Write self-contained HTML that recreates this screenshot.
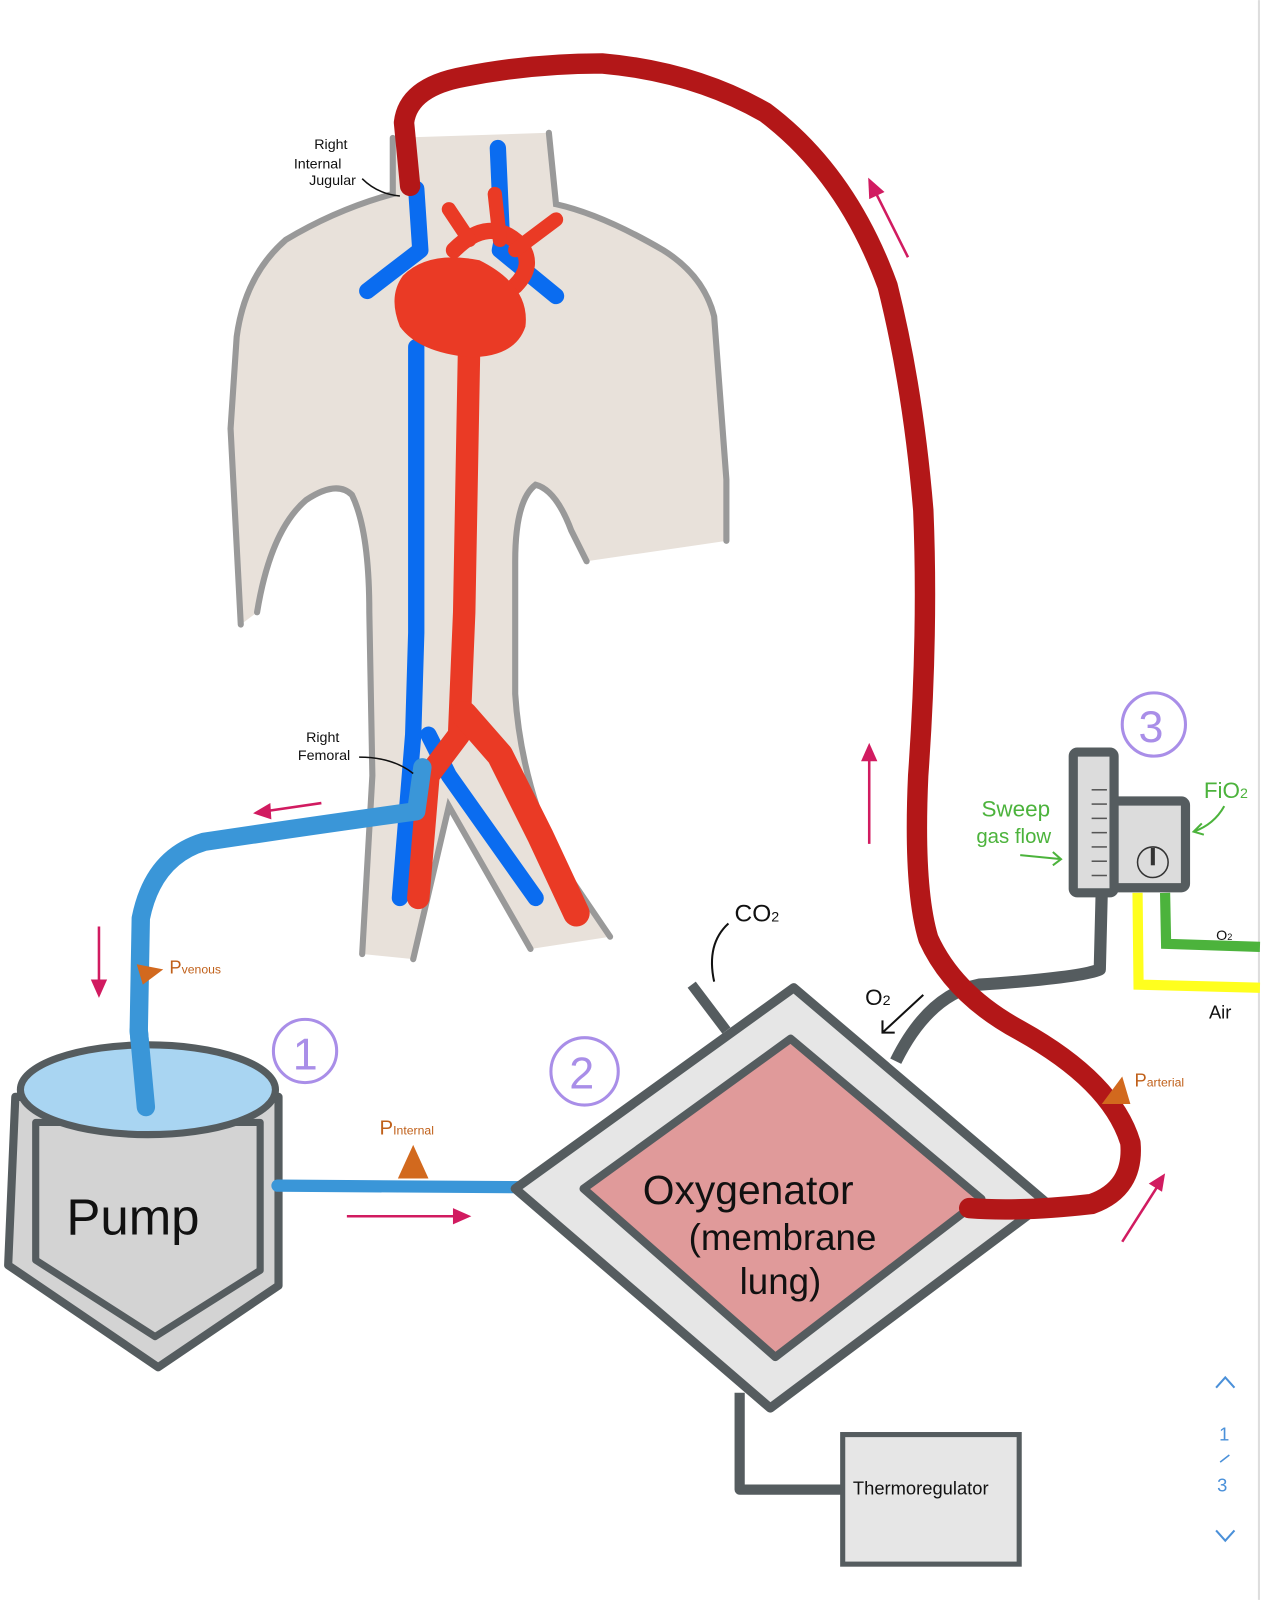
<!DOCTYPE html>
<html><head><meta charset="utf-8"><style>
html,body{margin:0;padding:0;background:#fff;width:1262px;height:1600px;overflow:hidden}
svg{display:block}
text{font-family:"Liberation Sans",sans-serif}
</style></head><body>
<svg width="1262" height="1600" viewBox="0 0 1237 1568" xmlns="http://www.w3.org/2000/svg">
<rect width="1237" height="1568" fill="#fff"/>
<line x1="1234" y1="0" x2="1234" y2="1568" stroke="#ddd" stroke-width="2"/>
<!-- body -->
<path d="M385,135 L385,190 Q330,205 280,235 Q240,270 232,330 L226,420 L236,612 L252,600 Q265,520 300,490 Q330,470 345,485 Q362,520 362,600 L365,760 L355,935 L405,940 L440,790 L520,930 L598,918 L545,840 Q510,760 505,680 L505,550 Q505,490 525,475 Q545,480 560,520 L575,550 L712,530 L712,470 L700,310 Q690,270 650,245 Q590,210 545,200 L538,130 Z" fill="#e8e1da"/>
<path d="M385,135 L385,190 Q330,205 280,235 Q240,270 232,330 L226,420 L236,612" fill="none" stroke="#999" stroke-width="6" stroke-linecap="round"/>
<path d="M252,600 Q265,520 300,490 Q330,470 345,485 Q362,520 362,600 L365,760 L355,935" fill="none" stroke="#999" stroke-width="6" stroke-linecap="round"/>
<path d="M405,940 L440,790 L520,930" fill="none" stroke="#999" stroke-width="6" stroke-linecap="round"/>
<path d="M598,918 L545,840 Q510,760 505,680 L505,550 Q505,490 525,475 Q545,480 560,520 L575,550" fill="none" stroke="#999" stroke-width="6" stroke-linecap="round"/>
<path d="M712,530 L712,470 L700,310 Q690,270 650,245 Q590,210 545,200 L538,130" fill="none" stroke="#999" stroke-width="6" stroke-linecap="round"/>
<!-- veins -->
<g stroke="#0a6cf0" stroke-width="16" fill="none" stroke-linecap="round" stroke-linejoin="round">
<path d="M408,185 L412,245 L360,285"/>
<path d="M488,145 L492,235 L490,245 L545,290"/>
<path d="M408,340 L408,620 L405,720 L392,880"/>
<path d="M420,720 L440,760 L525,880"/>
</g>
<!-- arteries -->
<g stroke="#ea3a25" fill="none" stroke-linecap="round" stroke-linejoin="round">
<path d="M460,330 L455,600 L450,720 L420,760 L410,880" stroke-width="22"/>
<path d="M455,700 L490,740 L530,820 L565,895" stroke-width="26"/>
<path d="M445,245 Q480,210 510,240 Q525,260 505,280" stroke-width="16"/>
<path d="M440,205 L460,235 M485,190 L490,235 M545,215 L505,245" stroke-width="14"/>
</g>
<path d="M395,270 Q420,245 470,255 Q520,280 515,320 Q505,350 460,350 Q410,345 392,320 Q380,290 395,270 Z" fill="#ea3a25"/>
<!-- venous return tube -->
<path d="M414,752 L408,795 Q300,810 200,825 Q150,840 138,900 L136,1010 L143,1090" fill="none" stroke="#3a96d8" stroke-width="18" stroke-linecap="round" stroke-linejoin="round"/>
<!-- pump -->
<polygon points="15,1075 273,1075 273,1260 155,1340 8,1240" fill="#d3d3d3" stroke="#555c5f" stroke-width="8" stroke-linejoin="round"/>
<polygon points="35,1100 255,1100 255,1245 152,1310 35,1235" fill="none" stroke="#555c5f" stroke-width="7" stroke-linejoin="round"/>
<ellipse cx="145" cy="1068" rx="125" ry="44" fill="#a9d5f2" stroke="#555c5f" stroke-width="7"/>
<path d="M136,1010 L143,1085" stroke="#3a96d8" stroke-width="18" stroke-linecap="round"/>
<text x="65" y="1210" font-size="50" fill="#111">Pump</text>
<!-- blue line to oxygenator -->
<path d="M272,1162 L580,1164" stroke="#3a96d8" stroke-width="12" stroke-linecap="round"/>
<!-- oxygenator -->
<polygon points="778,968 1025,1178 755,1380 505,1165" fill="#e6e6e6" stroke="#555c5f" stroke-width="9" stroke-linejoin="round"/>
<polygon points="775,1018 962,1175 760,1330 572,1165" fill="#e09a9a" stroke="#555c5f" stroke-width="8" stroke-linejoin="round"/>
<text x="630" y="1180" font-size="40" fill="#111">Oxygenator</text>
<text x="675" y="1225" font-size="36" fill="#111">(membrane</text>
<text x="725" y="1268" font-size="36" fill="#111">lung)</text>
<!-- CO2 stub -->
<path d="M678,965 L712,1010" stroke="#555c5f" stroke-width="10"/>
<path d="M700,962 Q692,925 714,905" fill="none" stroke="#111" stroke-width="2"/>
<text x="720" y="903" font-size="24" fill="#111">CO<tspan font-size="14">2</tspan></text>
<!-- thermoregulator -->
<path d="M725,1365 L725,1460 L828,1460" fill="none" stroke="#555c5f" stroke-width="10" stroke-linejoin="round"/>
<rect x="826" y="1406" width="173" height="127" fill="#e6e6e6" stroke="#555c5f" stroke-width="5"/>
<text x="836" y="1465" font-size="18" fill="#111">Thermoregulator</text>
<!-- gas line -->
<path d="M1080,870 L1078,950 Q1060,958 960,965 Q910,975 878,1040" fill="none" stroke="#555c5f" stroke-width="12" stroke-linejoin="round"/>
<path d="M1115,875 L1116,965 L1235,968" fill="none" stroke="#ffff1e" stroke-width="10"/>
<path d="M1142,875 L1143,925 L1235,928" fill="none" stroke="#4cb33c" stroke-width="10"/>
<text x="1192" y="921" font-size="14" fill="#111">O<tspan font-size="9">2</tspan></text>
<text x="1185" y="998" font-size="18" fill="#111">Air</text>
<!-- blender -->
<rect x="1052" y="737" width="40" height="138" rx="4" fill="#dcdcdc" stroke="#555c5f" stroke-width="9"/>
<rect x="1092" y="785" width="70" height="85" rx="4" fill="#dcdcdc" stroke="#555c5f" stroke-width="9"/>
<g stroke="#555" stroke-width="1.5">
<line x1="1070" y1="774" x2="1085" y2="774"/><line x1="1070" y1="788" x2="1085" y2="788"/>
<line x1="1070" y1="802" x2="1085" y2="802"/><line x1="1070" y1="816" x2="1085" y2="816"/>
<line x1="1070" y1="830" x2="1085" y2="830"/><line x1="1070" y1="844" x2="1085" y2="844"/>
<line x1="1070" y1="858" x2="1085" y2="858"/>
</g>
<circle cx="1130" cy="845" r="15" fill="none" stroke="#333" stroke-width="1.5"/>
<line x1="1130" y1="831" x2="1130" y2="848" stroke="#333" stroke-width="4"/>
<text x="1130" y="695" font-size="1" fill="#fff"> </text>
<circle cx="1131" cy="710" r="31" fill="none" stroke="#a98ee8" stroke-width="3"/>
<text x="1116" y="727" font-size="44" fill="#a98ee8">3</text>
<text x="962" y="800" font-size="22" fill="#4cb33c">Sweep</text>
<text x="957" y="826" font-size="20" fill="#4cb33c">gas flow</text>
<path d="M1000,838 L1040,842 M1032,835 L1040,842 L1032,848" fill="none" stroke="#4cb33c" stroke-width="2"/>
<text x="1180" y="782" font-size="22" fill="#4cb33c">FiO<tspan font-size="14">2</tspan></text>
<path d="M1200,790 Q1190,808 1170,815 M1178,807 L1170,815 L1180,818" fill="none" stroke="#4cb33c" stroke-width="2"/>
<!-- O2 arrow -->
<text x="848" y="985" font-size="22" fill="#111">O<tspan font-size="14">2</tspan></text>
<path d="M905,975 L865,1012 M865,1000 L865,1012 L877,1012" fill="none" stroke="#111" stroke-width="2"/>
<!-- red arterial tube -->
<path d="M402,182 L396,120 Q400,85 455,75 Q520,62 590,62 Q680,70 750,110 Q830,170 870,280 Q895,380 905,500 Q910,620 900,760 Q895,870 910,920 Q935,975 1000,1010 Q1090,1060 1108,1120 Q1112,1165 1070,1180 Q1000,1188 950,1184" fill="none" stroke="#b31718" stroke-width="20" stroke-linecap="round" stroke-linejoin="round"/>
<!-- labels -->
<text x="308" y="146" font-size="14" fill="#111">Right</text>
<text x="288" y="165" font-size="14" fill="#111">Internal</text>
<text x="303" y="181" font-size="14" fill="#111">Jugular</text>
<path d="M355,175 Q370,190 392,192" fill="none" stroke="#111" stroke-width="1.5"/>
<text x="300" y="727" font-size="14" fill="#111">Right</text>
<text x="292" y="745" font-size="14" fill="#111">Femoral</text>
<path d="M352,742 Q385,742 405,758" fill="none" stroke="#111" stroke-width="1.5"/>
<!-- pressure markers -->
<polygon points="134,945 160,950 140,965" fill="#d2691e"/>
<text x="166" y="954" font-size="18" fill="#c0601a">P<tspan font-size="12">venous</tspan></text>
<polygon points="405,1122 420,1155 390,1155" fill="#d2691e"/>
<text x="372" y="1112" font-size="20" fill="#c0601a">P<tspan font-size="12">Internal</tspan></text>
<polygon points="1100,1055 1108,1082 1080,1082" fill="#d2691e"/>
<text x="1112" y="1065" font-size="18" fill="#c0601a">P<tspan font-size="12">arterial</tspan></text>
<!-- flow arrows -->
<g stroke="#d11b60" stroke-width="2.5" fill="#d11b60">
<line x1="315" y1="787" x2="260" y2="795"/><polygon points="248,797 265,787 266,803" stroke="none"/>
<line x1="97" y1="908" x2="97" y2="965"/><polygon points="97,978 89,960 105,960" stroke="none"/>
<line x1="340" y1="1192" x2="448" y2="1192"/><polygon points="462,1192 444,1184 444,1200" stroke="none"/>
<line x1="852" y1="827" x2="852" y2="742"/><polygon points="852,728 844,746 860,746" stroke="none"/>
<line x1="890" y1="252" x2="858" y2="188"/><polygon points="851,174 852,195 867,188" stroke="none"/>
<line x1="1100" y1="1217" x2="1135" y2="1162"/><polygon points="1142,1150 1126,1160 1139,1168" stroke="none"/>
</g>
<!-- numbered circles -->
<circle cx="299" cy="1030" r="31" fill="none" stroke="#a98ee8" stroke-width="3"/>
<text x="287" y="1048" font-size="44" fill="#a98ee8">1</text>
<circle cx="573" cy="1050" r="33" fill="none" stroke="#a98ee8" stroke-width="3"/>
<text x="558" y="1067" font-size="44" fill="#a98ee8">2</text>
<!-- page nav -->
<path d="M1192,1360 L1201,1350 L1210,1360" fill="none" stroke="#4a90d9" stroke-width="2"/>
<text x="1195" y="1412" font-size="18" fill="#4a90d9">1</text>
<line x1="1196" y1="1433" x2="1205" y2="1426" stroke="#4a90d9" stroke-width="1.5"/>
<text x="1193" y="1462" font-size="18" fill="#4a90d9">3</text>
<path d="M1192,1500 L1201,1510 L1210,1500" fill="none" stroke="#4a90d9" stroke-width="2"/>
</svg>
</body></html>
